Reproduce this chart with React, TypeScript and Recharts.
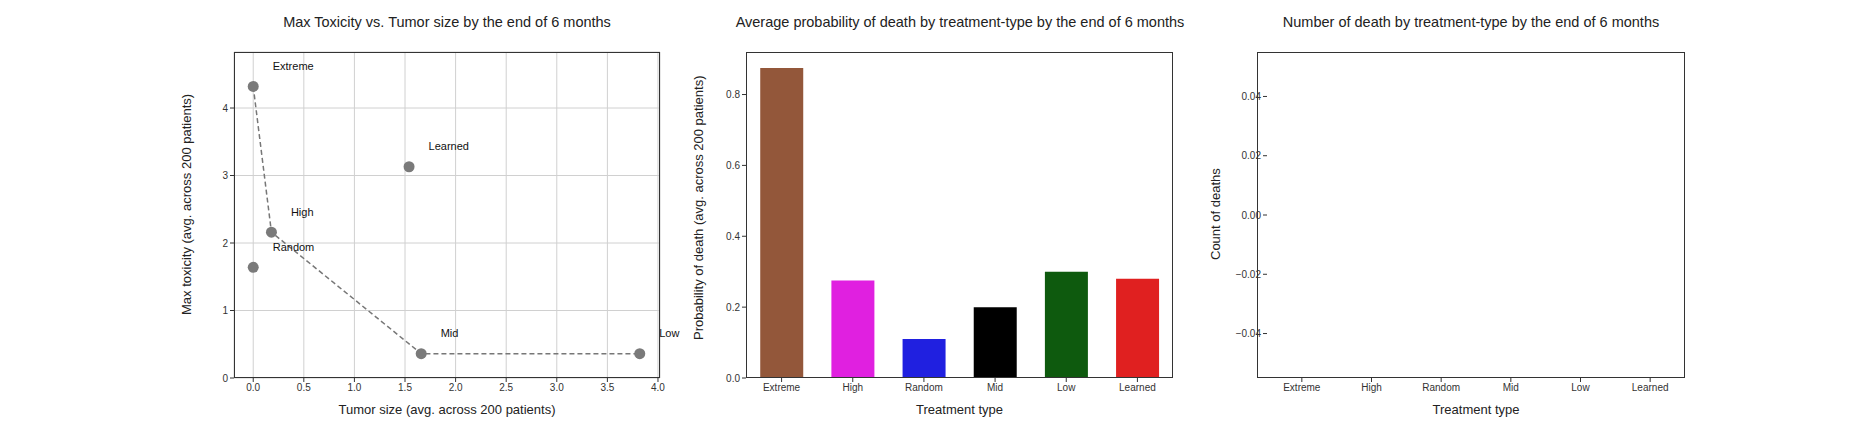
import React from 'react';
import {
  ComposedChart,
  Scatter,
  Bar,
  Cell,
  XAxis,
  YAxis,
  CartesianGrid,
  LabelList,
} from 'recharts';

const treatments = ['Extreme', 'High', 'Random', 'Mid', 'Low', 'Learned'];
const tumorSize = [0.0, 0.18, 0.0, 1.66, 3.82, 1.54];
const maxToxicity = [4.32, 2.16, 1.64, 0.36, 0.36, 3.13];
const deathProb = [0.875, 0.275, 0.11, 0.2, 0.3, 0.28];
const deathCount = [0, 0, 0, 0, 0, 0];
const barColors = ['#93573a', '#e020e0', '#2020e0', '#000000', '#0e5a0e', '#e02020'];
const frontier = ['Extreme', 'High', 'Mid', 'Low'];

const xTicks1 = [0, 0.5, 1, 1.5, 2, 2.5, 3, 3.5, 4];
const yTicks1 = [0, 1, 2, 3, 4];
const yTicks2 = [0, 0.2, 0.4, 0.6, 0.8];
const yTicks3 = [-0.04, -0.02, 0, 0.02, 0.04];

const points = treatments.map((name, i) => ({ name, x: tumorSize[i], y: maxToxicity[i] }));
const frontierPts = frontier.map((n) => points.find((p) => p.name === n)!);
const bars = treatments.map((name, i) => ({ name, prob: deathProb[i], count: deathCount[i] }));

const font = '"Liberation Sans", Arial, sans-serif';
const tick = { fill: '#333', fontSize: 10, fontFamily: font };
const axisLine = { stroke: '#333' };
const W = 1872;
const H = 432;
const yw = 40;
const xh = 30;

const frame = (left: number, right: number) => ({
  top: 52,
  bottom: H - 378 - xh,
  left: left - yw,
  right: W - right,
});

const Title = ({ x, text }: { x: number; text: string }) => (
  <div
    style={{
      position: 'absolute',
      top: 14,
      left: x - 300,
      width: 600,
      textAlign: 'center',
      fontFamily: font,
      fontSize: 14.5,
      color: '#222',
    }}
  >
    {text}
  </div>
);

const Border = ({ left, right }: { left: number; right: number }) => (
  <div
    style={{
      position: 'absolute',
      top: 52,
      left,
      width: right - left,
      height: 378 - 52,
      border: '1px solid #333',
      boxSizing: 'border-box',
      pointerEvents: 'none',
    }}
  />
);

const PointLabel = (props: any) => {
  const { x, y, value } = props;
  return (
    <text x={x + 24} y={y - 12} fontSize={11} fontFamily={font} fill="#111">
      {value}
    </text>
  );
};

const layer: React.CSSProperties = { position: 'absolute', top: 0, left: 0 };

export default function App() {
  return (
    <div style={{ position: 'fixed', top: 0, left: 0, width: W, height: H, background: '#fff' }}>
      <div style={layer}>
        <ComposedChart width={W} height={H} margin={frame(234, 660)}>
          <CartesianGrid stroke="#d0d0d0" />
          <XAxis
            type="number"
            dataKey="x"
            domain={[-0.19, 4.02]}
            ticks={xTicks1}
            tickFormatter={(v: number) => v.toFixed(1)}
            tick={tick}
            axisLine={false}
            tickSize={4}
            tickLine={axisLine}
            height={xh}
            label={{ value: 'Tumor size (avg. across 200 patients)', position: 'insideBottom', offset: -6, fontSize: 13, fontFamily: font, fill: '#222' }}
          />
          <YAxis
            type="number"
            dataKey="y"
            domain={[0, 4.83]}
            ticks={yTicks1}
            tick={tick}
            axisLine={false}
            tickSize={4}
            tickLine={axisLine}
            width={yw}
            label={{ value: 'Max toxicity (avg. across 200 patients)', angle: -90, position: 'insideLeft', offset: -8, dy: 100, fontSize: 13, fontFamily: font, fill: '#222' }}
          />
          <Scatter
            data={frontierPts}
            line={{ stroke: '#777', strokeDasharray: '5 3', strokeWidth: 1.5 }}
            shape={() => null}
            isAnimationActive={false}
          />
          <Scatter data={points} fill="#7a7a7a" isAnimationActive={false} shape={(p: any) => <circle cx={p.cx} cy={p.cy} r={5.5} fill="#7a7a7a" />}>
            <LabelList dataKey="name" content={PointLabel} />
          </Scatter>
        </ComposedChart>
      </div>
      <div style={layer}>
        <ComposedChart width={W} height={H} data={bars} margin={frame(746, 1173)} barCategoryGap="20%">
          <XAxis
            dataKey="name"
            tick={tick}
            axisLine={false}
            tickSize={4}
            tickLine={axisLine}
            height={xh}
            label={{ value: 'Treatment type', position: 'insideBottom', offset: -6, fontSize: 13, fontFamily: font, fill: '#222' }}
          />
          <YAxis
            domain={[0, 0.92]}
            ticks={yTicks2}
            tickFormatter={(v: number) => v.toFixed(1)}
            tick={tick}
            axisLine={false}
            tickSize={4}
            tickLine={axisLine}
            width={yw}
            label={{ value: 'Probability of death (avg. across 200 patients)', angle: -90, position: 'insideLeft', offset: -8, dy: 125, fontSize: 13, fontFamily: font, fill: '#222' }}
          />
          <Bar dataKey="prob" isAnimationActive={false}>
            {bars.map((b, i) => (
              <Cell key={b.name} fill={barColors[i]} />
            ))}
          </Bar>
        </ComposedChart>
      </div>
      <div style={layer}>
        <ComposedChart width={W} height={H} data={bars} margin={frame(1257, 1685)} barCategoryGap="20%">
          <XAxis
            dataKey="name"
            tick={tick}
            axisLine={false}
            tickSize={4}
            tickLine={axisLine}
            height={xh}
            label={{ value: 'Treatment type', position: 'insideBottom', offset: -6, fontSize: 13, fontFamily: font, fill: '#222' }}
          />
          <YAxis
            domain={[-0.055, 0.055]}
            ticks={yTicks3}
            tickFormatter={(v: number) => v.toFixed(2).replace('-', '\u2212')}
            tick={tick}
            axisLine={false}
            tickSize={4}
            tickLine={axisLine}
            width={yw + 10}
            label={{ value: 'Count of deaths', angle: -90, position: 'insideLeft', offset: -2, dy: 45, fontSize: 13, fontFamily: font, fill: '#222' }}
          />
          <Bar dataKey="count" isAnimationActive={false}>
            {bars.map((b, i) => (
              <Cell key={b.name} fill={barColors[i]} />
            ))}
          </Bar>
        </ComposedChart>
      </div>
      <Border left={234} right={660} />
      <Border left={746} right={1173} />
      <Border left={1257} right={1685} />
      <Title x={447} text="Max Toxicity vs. Tumor size by the end of 6 months" />
      <Title x={960} text="Average probability of death by treatment-type by the end of 6 months" />
      <Title x={1471} text="Number of death by treatment-type by the end of 6 months" />
    </div>
  );
}
